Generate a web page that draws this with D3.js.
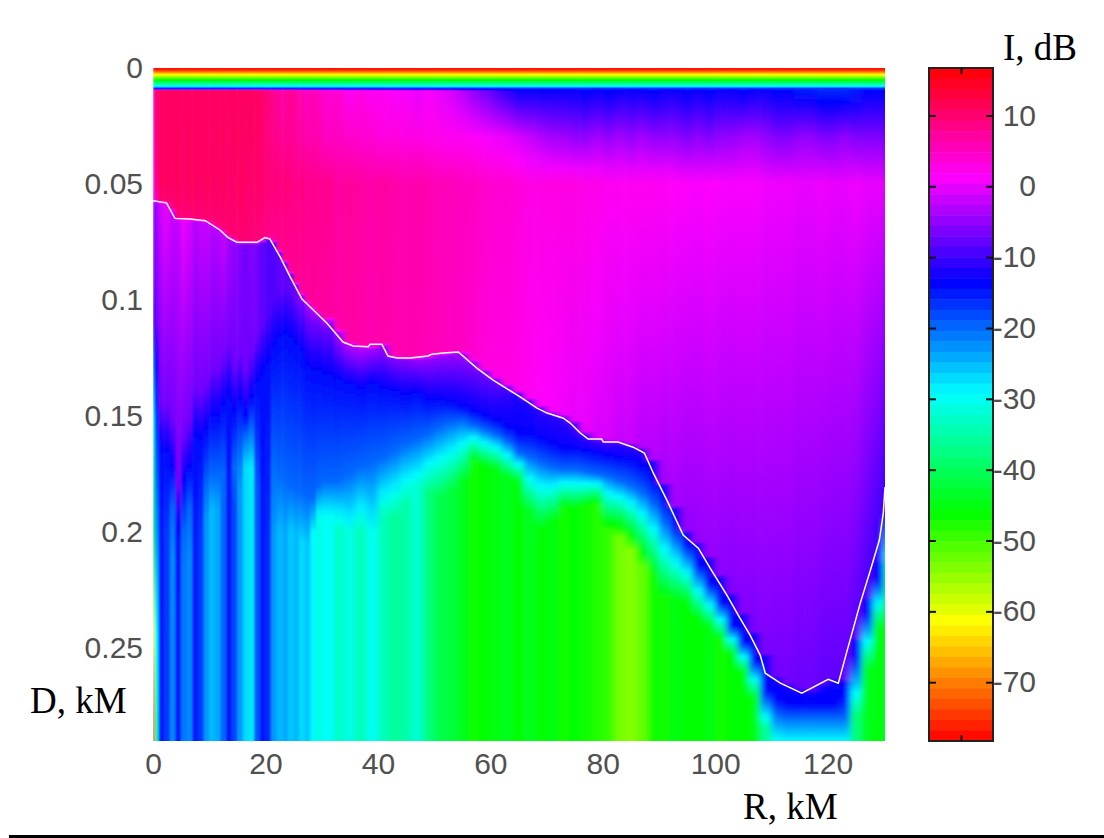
<!DOCTYPE html>
<html>
<head>
<meta charset="utf-8">
<script src="https://d3js.org/d3.v7.min.js"></script>
<style>
  body { margin: 0; background: #fff; }
  svg { display: block; }
  .tick text { font-family: "Liberation Sans", Arial, sans-serif; font-size: 30px; fill: #505050; }
  .lab { font-family: "Liberation Serif", "Times New Roman", serif; font-size: 37px; fill: #000; }
</style>
</head>
<body>
<svg id="chart" width="1104" height="838"></svg>
<script>
// range of each streak column, km (left edges)
var rangeKm = [0, 0.3,
  1, 2, 3, 4, 5, 6, 7, 8, 9, 10,
  11, 12, 13, 14, 15, 16, 17, 18, 19, 20,
  21, 22, 23, 24, 25, 26, 27, 28, 29, 30,
  32, 34, 36, 38, 40, 42, 44, 46, 48, 50,
  52, 54, 56, 58, 60, 62, 64, 66, 68, 70,
  72, 74, 76, 78, 80, 82, 84, 86, 88, 90,
  92, 94, 96, 98, 100, 102, 104, 106, 108, 110,
  112, 114, 116, 118, 120, 122, 124, 126, 128, 130];

// dB right under the surface band
var topDb = [4, 10,
  11, 11, 11, 11, 11, 11, 11, 11, 11, 11,
  11, 11, 11, 11, 11, 11, 11, 11, 10, 9.5,
  8, 7, 7, 8, 7, 6, 5, 6, 5, 4,
  4, 2, 3, 2, 2, 1, 1, 0, 1, 0,
  -1, -3, -5, -7, -9, -11, -13, -13, -13, -13,
  -13, -13, -14, -13, -14, -13, -13, -13, -14, -13,
  -13, -14, -13, -14, -13, -13, -14, -13, -13, -14,
  -14, -15, -15, -16, -16, -16, -15, -14, -14, -13];

// dB at 0.03 km
var upperDb = [2, 10,
  11, 11, 11, 11, 10.5, 11, 11, 11, 11, 10.5,
  11, 11, 10.5, 11, 11, 10.5, 11, 10.5, 10, 9,
  8.5, 8, 7.5, 8, 7, 7, 6, 6.5, 6, 5,
  5, 4.5, 4, 4, 3, 3.5, 3, 3, 2.5, 2.5,
  2, 2, 1.5, 1, 0.5, 0, -1, -2, -3, -4,
  -4, -5, -5, -4, -5, -4, -5, -4, -5, -5,
  -5, -6, -5, -6, -5, -5, -4, -4, -5, -6,
  -6, -5, -5, -6, -6, -5, -6, -6, -6, -7];

// dB at 0.05 km
var midDb = [1, 9,
  11, 11, 10.5, 11, 10.5, 11, 11, 10.5, 11, 11,
  10.5, 11, 10.5, 10.5, 11, 10.5, 10, 10.5, 10, 9.5,
  9.5, 9, 9.5, 9, 8.5, 9, 8, 8.5, 8, 8,
  7, 7.5, 7, 6.5, 7, 6.5, 6, 6.5, 6, 5.5,
  5.5, 5, 5, 4.5, 4, 4, 3.5, 3, 3, 3,
  3, 3, 2.5, 2.5, 2, 2, 2, 2, 2, 2,
  1.5, 1.5, 1, 1.5, 1, 1, 1, 1, 0.5, 0.5,
  0.5, 0, 0, 0.5, 0, 0, 0.5, 0, 0, -0.5];

// dB just above the white line
var aboveDb = [0, 6,
  10, 10, 9.5, 10, 9.5, 9.5, 10, 9.5, 10, 9.5,
  10, 9.5, 10, 9.5, 10, 9.5, 9.5, 9.5, 9, 8.5,
  8, 8, 8, 7.5, 8, 7.5, 7, 7.5, 7, 7,
  6.5, 7, 6.5, 6, 6.5, 6, 6, 6, 5.5, 5.5,
  5, 5, 4, 3.5, 3, 3, 2.5, 2, 1.5, 1,
  0.5, 0, 0, -1, -1, -2, -2, -3, -3, -4,
  -4, -5, -5, -5, -5.5, -6, -6, -6.5, -6.5, -7,
  -7, -7.5, -7.5, -8, -8, -8, -8.5, -9.5, -10.5, -12];

// dB just below the white line
var belowDb = [-6, -4,
  -1, 0, -2, -2, 0, -1, -3, -2, -2, -3,
  -3, -2, -4, -5, -6, -7, -6, -7, -8, -9,
  -9, -8, -8, -8, -7, -5, -4, -3, -4, -3,
  -4, -3, -3, -4, -5, -6, -6, -5, -5, -5,
  -5, -5, -6, -7, -8, -10, -12, -12, -11, -11,
  -11, -10, -10, -10, -10, -11, -11, -12, -13, -13,
  -13, -13, -13, -13, -13, -13, -13, -13, -13, -13,
  -13, -13, -13, -13, -13, -13, -14, -14, -14, -14];

// depth where the column turns blue (-14 dB), km
var bandDepth = [0.11, 0.13,
  0.165, 0.165, 0.172, 0.2, 0.178, 0.172, 0.158, 0.16, 0.156, 0.15,
  0.15, 0.145, 0.14, 0.148, 0.143, 0.15, 0.142, 0.135, 0.13, 0.126,
  0.12, 0.116, 0.114, 0.116, 0.119, 0.122, 0.128, 0.13, 0.13, 0.132,
  0.134, 0.136, 0.138, 0.136, 0.138, 0.139, 0.141, 0.14, 0.143, 0.143,
  0.144, 0.146, 0.148, 0.15, 0.152, 0.155, 0.158, 0.158, 0.16, 0.162,
  0.164, 0.164, 0.165, 0.166, 0.167, 0.168, 0.169, 0.172, 0.178, 0.186,
  0.197, 0.205, 0.214, 0.222, 0.23, 0.24, 0.247, 0.255, 0.268, 0.272,
  0.274, 0.274, 0.274, 0.274, 0.274, 0.271, 0.253, 0.2345, 0.2195, 0.19];

// depth where the column has come to -20 dB, km (0 where it never does)
var azureDepth = [0, 0,
  0, 0, 0.19, 0, 0.2, 0.19, 0, 0, 0.18, 0.175,
  0.175, 0.175, 0, 0.172, 0.165, 0.158, 0.155, 0, 0, 0,
  0.17, 0.175, 0.177, 0.18, 0.182, 0.183, 0.185, 0.185, 0.18, 0.178,
  0.178, 0.175, 0.172, 0.17, 0.168, 0.165, 0.162, 0.16, 0.158, 0.155,
  0.153, 0.152, 0.154, 0.156, 0.158, 0.161, 0.166, 0.168, 0.17, 0.172,
  0.173, 0.173, 0.174, 0.175, 0.176, 0.178, 0.18, 0.183, 0.188, 0.196,
  0, 0, 0, 0, 0, 0, 0, 0, 0, 0,
  0.28, 0.28, 0.28, 0.28, 0.28, 0.28, 0, 0, 0, 0];

// depth where the column settles at its floor value, km
var settleDepth = [0.29, 0.29,
  0.2, 0.2, 0.21, 0.24, 0.215, 0.21, 0.2, 0.2, 0.195, 0.19,
  0.19, 0.19, 0.19, 0.19, 0.18, 0.172, 0.172, 0.18, 0.2, 0.2,
  0.2, 0.2, 0.2, 0.2, 0.2, 0.205, 0.205, 0.2, 0.195, 0.1935,
  0.199, 0.2, 0.2, 0.2, 0.193, 0.194, 0.1875, 0.18, 0.183, 0.185,
  0.182, 0.178, 0.17, 0.172, 0.173, 0.176, 0.179, 0.191, 0.199, 0.195,
  0.19, 0.19, 0.189, 0.188, 0.199, 0.2025, 0.208, 0.215, 0.219, 0.229,
  0.229, 0.231, 0.2375, 0.241, 0.2466, 0.253, 0.261, 0.272, 0.2845, 0.29,
  0.29, 0.29, 0.29, 0.29, 0.29, 0.29, 0.279, 0.2595, 0.242, 0.229];

// dB at the bottom of the column
var floorDb = [-78, -35,
  -15, -17, -22, -15, -21, -22, -15, -17, -23, -25,
  -24, -20, -15, -18, -23, -27, -28, -19, -15, -16,
  -23, -25, -24, -26, -25, -27, -26, -29, -31, -30,
  -33, -31, -34, -30, -34, -36, -35, -32, -38, -41,
  -42, -44, -47, -46, -45, -44, -46, -44, -46, -45,
  -47, -46, -47, -48, -49, -53, -54, -52, -47, -47,
  -45, -46, -46, -45, -47, -46, -46, -45, -36, -30,
  -29, -29, -29, -29, -29, -29, -38, -44, -45, -44];

// rainbow band at the surface, same for all columns
var surfaceDepth = [0, 0.0009, 0.0028, 0.0052, 0.0078, 0.0088];
var surfaceDb = [-78, -76, -62, -46, -30, -17];

// white line
var lineRange = [0, 2.4, 3.9, 6.6, 9.3, 11.9, 13.3, 14.9, 18.5, 19.9, 20.8, 22.6, 24.4, 26.5, 30.9, 33.8, 35.6, 38.3, 38.6, 40.7, 41.8, 43.4, 45.7, 48.9, 49.6, 51.6, 54.3, 57.6, 60.5, 65.3, 68.3, 70.1, 73, 74.2, 76, 77.4, 79.8, 80.1, 82.7, 85.4, 87.4, 89, 91.4, 94.3, 97, 99.1, 102.1, 104.4, 106.2, 108, 108.9, 111.6, 115.4, 120.1, 121.9, 123.1, 125.8, 127.6, 129.2, 129.9, 130.2];
var lineDepth = [0.0572, 0.0581, 0.0648, 0.0651, 0.0658, 0.0698, 0.073, 0.0751, 0.0751, 0.0731, 0.0737, 0.0813, 0.09, 0.0996, 0.1099, 0.1181, 0.1198, 0.1201, 0.119, 0.119, 0.1241, 0.125, 0.125, 0.1241, 0.1233, 0.1228, 0.1224, 0.1293, 0.1345, 0.1417, 0.1466, 0.1487, 0.1509, 0.153, 0.1573, 0.1599, 0.1599, 0.1612, 0.1612, 0.1634, 0.1659, 0.1746, 0.1862, 0.2013, 0.2069, 0.2155, 0.2272, 0.2371, 0.2444, 0.253, 0.2608, 0.2651, 0.2694, 0.2634, 0.2651, 0.2543, 0.2306, 0.2164, 0.2034, 0.1918, 0.1806];

// tick labels
var rangeTicks = [0, 20, 40, 60, 80, 100, 120];
var depthTicks = [0, 0.05, 0.1, 0.15, 0.2, 0.25];
var dbTicks = [10, 0, -10, -20, -30, -40, -50, -60, -70];

// colour map
var colorDb = [16.7, 1.3, -13.6, -29.3, -46, -61.5, -78.3];
var colorHex = ["#ff0000", "#ff00ff", "#0000ff", "#00ffff", "#00ff00", "#ffff00", "#ff0000"];

var plotLeft = 153, plotRight = 885, plotTop = 68, plotBottom = 741;
var barLeft = 929, barRight = 993;

var svg = d3.select("#chart");

var x = d3.scaleLinear().domain([0, 130.2]).range([plotLeft, plotRight]);
var y = d3.scaleLinear().domain([0, 0.29]).range([plotTop, plotBottom]);
var yBar = d3.scaleLinear().domain([16.7, -78.3]).range([plotTop, plotBottom]);
var color = d3.scaleLinear().domain(colorDb).range(colorHex);
var lineAt = d3.scaleLinear().domain(lineRange).range(lineDepth);

// stops of one column, top to bottom
function columnStops(i) {
  var stops = surfaceDepth.map(function (d, k) { return [d, surfaceDb[k]]; });
  var l = lineAt(rangeKm[i]);
  stops.push([0.0098, topDb[i]]);
  stops.push([0.03, upperDb[i]]);
  stops.push([0.05, midDb[i]]);
  stops.push([l - 0.0008, aboveDb[i]]);
  stops.push([l + 0.0012, belowDb[i]]);
  // stays purple until shortly before the blue band
  if (bandDepth[i] - 0.02 > l + 0.004) stops.push([bandDepth[i] - 0.02, Math.min(belowDb[i], -7)]);
  stops.push([bandDepth[i], -14]);
  if (azureDepth[i] > 0) stops.push([azureDepth[i], -20]);
  stops.push([settleDepth[i], floorDb[i]]);
  stops.push([0.29, floorDb[i]]);
  stops.sort(function (a, b) { return a[0] - b[0]; });

  // small steps so the gradient follows the hue, not a straight rgb blend
  var out = [];
  stops.forEach(function (s, k) {
    if (k == 0) { out.push(s); return; }
    var p = stops[k - 1];
    var n = Math.max(1, Math.ceil(Math.abs(s[1] - p[1]) / 3));
    for (var j = 1; j <= n; j++) {
      out.push([p[0] + (s[0] - p[0]) * j / n, p[1] + (s[1] - p[1]) * j / n]);
    }
  });
  return out;
}

var defs = svg.append("defs");

defs.append("clipPath").attr("id", "plot-clip")
  .append("rect")
  .attr("x", plotLeft).attr("y", plotTop - 1)
  .attr("width", plotRight - plotLeft).attr("height", plotBottom - plotTop + 1);

defs.append("filter").attr("id", "soft-wide")
  .attr("x", "-3%").attr("y", "-2%").attr("width", "106%").attr("height", "104%")
  .append("feGaussianBlur").attr("stdDeviation", "3 0.5");

defs.append("filter").attr("id", "soft-narrow")
  .attr("x", "-3%").attr("y", "-2%").attr("width", "106%").attr("height", "104%")
  .append("feGaussianBlur").attr("stdDeviation", "1.1 0.5");

var grads = defs.selectAll("linearGradient")
  .data(rangeKm)
  .enter()
  .append("linearGradient")
  .attr("id", function (d, i) { return "col" + i; })
  .attr("gradientUnits", "userSpaceOnUse")
  .attr("x1", 0).attr("x2", 0)
  .attr("y1", y(0)).attr("y2", y(0.29));

grads.selectAll("stop")
  .data(function (d, i) { return columnStops(i); })
  .enter()
  .append("stop")
  .attr("offset", function (d) { return d[0] / 0.29; })
  .attr("stop-color", function (d) { return color(d[1]); });

// heat map columns: the 2 km columns get more blur than the 1 km ones
var heat = svg.append("g").attr("clip-path", "url(#plot-clip)");

function drawColumns(filterId, keep) {
  heat.append("g")
    .attr("filter", "url(#" + filterId + ")")
    .selectAll("rect")
    .data(rangeKm.map(function (d, i) { return { km: d, i: i }; }).filter(keep))
    .enter()
    .append("rect")
    .attr("x", function (d) { return x(d.km); })
    .attr("y", y(0))
    .attr("width", function (d) {
      // the last column runs past the clip so blur doesn't fade the edge
      if (d.i == rangeKm.length - 1) return 20;
      return x(rangeKm[d.i + 1]) - x(d.km) + 0.5;
    })
    .attr("height", y(0.29) - y(0))
    .attr("fill", function (d) { return "url(#col" + d.i + ")"; });
}

drawColumns("soft-wide", function (d) { return d.km >= 28; });
drawColumns("soft-narrow", function (d) { return d.km <= 30; });

// white line
var line = d3.line()
  .x(function (d) { return x(d); })
  .y(function (d, i) { return y(lineDepth[i]); });

svg.append("path")
  .attr("d", line(lineRange))
  .attr("fill", "none")
  .attr("stroke", "#fff")
  .attr("stroke-width", 1.5);

// axes
var xAxis = svg.append("g")
  .attr("transform", "translate(0," + plotBottom + ")")
  .call(d3.axisBottom(x).tickValues(rangeTicks).tickSize(0).tickPadding(12));
xAxis.select(".domain").remove();

var yAxis = svg.append("g")
  .attr("transform", "translate(" + plotLeft + ",0)")
  .call(d3.axisLeft(y).tickValues(depthTicks).tickSize(0).tickPadding(10).tickFormat(function (d) { return String(d); }));
yAxis.select(".domain").remove();

// colour bar
var levels = d3.range(64);
var levelH = (plotBottom - plotTop) / 64;
svg.append("g")
  .selectAll("rect")
  .data(levels)
  .enter()
  .append("rect")
  .attr("x", barLeft)
  .attr("y", function (d) { return plotTop + d * levelH; })
  .attr("width", barRight - barLeft)
  .attr("height", levelH + 0.5)
  .attr("fill", function (d) { return color(yBar.invert(plotTop + (d + 0.5) * levelH)); });

svg.append("rect")
  .attr("x", barLeft).attr("y", plotTop)
  .attr("width", barRight - barLeft).attr("height", plotBottom - plotTop)
  .attr("fill", "none").attr("stroke", "#222").attr("stroke-width", 2);

var barRightAxis = svg.append("g")
  .attr("transform", "translate(" + barRight + ",0)")
  .call(d3.axisRight(yBar).tickValues(dbTicks).tickSizeInner(-7).tickSizeOuter(0).tickFormat(function (d) { return String(d); }));
barRightAxis.select(".domain").remove();
barRightAxis.selectAll("line").attr("stroke", "#111").attr("stroke-width", 2);
barRightAxis.selectAll("text").attr("x", 43).attr("text-anchor", "end");

var barLeftAxis = svg.append("g")
  .attr("transform", "translate(" + barLeft + ",0)")
  .call(d3.axisLeft(yBar).tickValues(dbTicks).tickSizeInner(-7).tickSizeOuter(0).tickFormat(""));
barLeftAxis.select(".domain").remove();
barLeftAxis.selectAll("line").attr("stroke", "#111").attr("stroke-width", 2);

var xBar = d3.scaleLinear().domain([0, 1]).range([barLeft, barRight]);
[[d3.axisTop, plotTop], [d3.axisBottom, plotBottom]].forEach(function (a) {
  var g = svg.append("g")
    .attr("transform", "translate(0," + a[1] + ")")
    .call(a[0](xBar).tickValues([0.5]).tickSizeInner(-6).tickSizeOuter(0).tickFormat(""));
  g.select(".domain").remove();
  g.selectAll("line").attr("stroke", "#111").attr("stroke-width", 2);
});

// labels
svg.append("text").attr("class", "lab").attr("x", 1003).attr("y", 60).text("I, dB");
svg.append("text").attr("class", "lab").attr("x", 30).attr("y", 713).text("D, kM");
svg.append("text").attr("class", "lab").attr("x", 743).attr("y", 819).text("R, kM");

// black rule along the bottom of the picture
svg.append("line")
  .attr("x1", 9).attr("x2", 1104)
  .attr("y1", 836.5).attr("y2", 836.5)
  .attr("stroke", "#000").attr("stroke-width", 3);
</script>
</body>
</html>
